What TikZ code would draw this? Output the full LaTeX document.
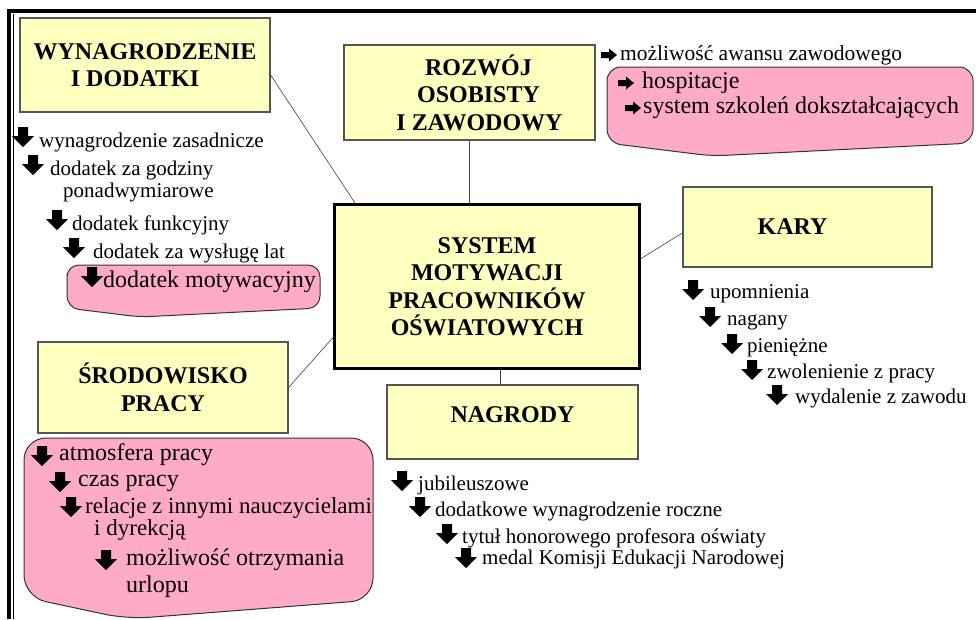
\documentclass[tikz,border=0pt]{standalone}
\usepackage{fontspec}
\setmainfont{Liberation Serif}
\usepackage{tikz}

\definecolor{boxyellow}{RGB}{255,255,192}
\definecolor{callpink}{RGB}{255,170,200}
\definecolor{boxline}{RGB}{85,85,85}

\newcommand{\listfont}{\fontsize{21}{25}\selectfont}
\newcommand{\bigfont}{\fontsize{24}{27}\selectfont}
\newcommand{\headfont}{\fontsize{24}{27.5}\selectfont\bfseries}

\tikzset{
  titlebox/.style={draw=boxline, line width=1.2pt, fill=boxyellow, align=center, font=\headfont, inner sep=0pt},
  item/.style={anchor=base west, inner sep=0pt, font=\listfont},
  bigitem/.style={item, font=\bigfont},
  link/.style={draw=black!75, line width=0.6pt},
  callout/.style={draw=black!80, line width=1pt, fill=callpink},
  dnarr/.pic={\fill (-5,-10) -- (5,-10) -- (5,-1) -- (11,-1) -- (0,10) -- (-11,-1) -- (-5,-1) -- cycle;},
  rtarr/.pic={\fill (-8,-3) -- (0,-3) -- (0,-6.5) -- (8,0) -- (0,6.5) -- (0,3) -- (-8,3) -- cycle;}
}

\begin{document}
\begin{tikzpicture}[x=1pt,y=-1pt]
\useasboundingbox (0,0) rectangle (976,619);

% frame
\draw[line width=4pt] (9,619) -- (9,11) -- (976,11);
\draw[line width=1pt] (13.5,619) -- (13.5,14);

% pink callouts
\draw[callout, rounded corners=14pt] (607,105) -- (607,67) -- (973,67) -- (973,143) -- (712,156) -- (607,143) -- cycle;
\draw[callout, rounded corners=12pt] (67,285) -- (67,265) -- (320,265) -- (320,308) -- (140,317) -- (67,308) -- cycle;
\draw[callout, rounded corners=22pt] (24,500) -- (24,438) -- (373,438) -- (373,600) -- (127,619) -- (24,597) -- cycle;

% boxes
\node[titlebox, minimum width=250pt, minimum height=94pt] (wyn) at (145,65) {WYNAGRODZENIE\\I DODATKI\hspace*{20pt}};
\node[titlebox, minimum width=251pt, minimum height=95pt] (rozw) at (469.5,92.5) {\hspace*{18pt}ROZWÓJ\\\hspace*{18pt}OSOBISTY\\\hspace*{20pt}I ZAWODOWY};
\node[titlebox, draw=black, line width=3pt, minimum width=305pt, minimum height=164pt] (sys) at (487,286.5) {SYSTEM\\MOTYWACJI\\PRACOWNIKÓW\\OŚWIATOWYCH};
\node[titlebox, minimum width=249pt, minimum height=80pt] (kary) at (807.5,227) {KARY\hspace*{30pt}};
\node[titlebox, minimum width=250pt, minimum height=91pt] (srod) at (163,387.5) {ŚRODOWISKO\\PRACY};
\node[titlebox, minimum width=251pt, minimum height=74pt, text depth=14pt] (nagr) at (512.5,422) {NAGRODY};

% connectors
\draw[link] ([yshift=-10pt]wyn.east) -- ([xshift=22pt]sys.north west);
\draw[link] (rozw.south) -- (rozw.south |- sys.north);
\draw[link] ([yshift=-6pt]kary.west) -- ([yshift=28pt]sys.east);
\draw[link] (srod.east) -- ([yshift=-51pt]sys.west);
\draw[link] ([xshift=-12pt]nagr.north) -- ([xshift=-12pt]nagr.north |- sys.south);

% wynagrodzenie
\node[item] (w1) at (39,147) {wynagrodzenie zasadnicze};
\node[item] (w2) at (50,175) {dodatek za godziny};
\node[item] (w2b) at (63,197) {ponadwymiarowe};
\node[item] (w3) at (72,230) {dodatek funkcyjny};
\node[item] (w4) at (93,258) {dodatek za wysługę lat};
\node[bigitem] (w5) at (103,287) {dodatek motywacyjny};
\pic at (23,137) {dnarr};
\pic at (33,165) {dnarr};
\pic at (57,220) {dnarr};
\pic at (74,248) {dnarr};
\pic at (92,277) {dnarr};

% rozwoj
\node[item, font=\fontsize{21.5}{25}\selectfont] (r1) at (620,60) {możliwość awansu zawodowego};
\node[bigitem] (r2) at (642,88) {hospitacje};
\node[bigitem] (r3) at (643,113) {system szkoleń dokształcających};
\pic at (609,55) {rtarr};
\pic at (626,83) {rtarr};
\pic at (633,108) {rtarr};

% kary
\node[item] (k1) at (710,298) {upomnienia};
\node[item] (k2) at (727,325) {nagany};
\node[item] (k3) at (747,352) {pieniężne};
\node[item] (k4) at (767,378) {zwolenienie z pracy};
\node[item] (k5) at (795,403) {wydalenie z zawodu};
\pic at (693,290) {dnarr};
\pic at (710,317) {dnarr};
\pic at (732,344) {dnarr};
\pic at (752,370) {dnarr};
\pic at (777,395) {dnarr};

% nagrody
\node[item] (n1) at (418,490) {jubileuszowe};
\node[item] (n2) at (435,516) {dodatkowe wynagrodzenie roczne};
\node[item] (n3) at (462,543) {tytuł honorowego profesora oświaty};
\node[item] (n4) at (482,564) {medal Komisji Edukacji Narodowej};
\pic at (402,481) {dnarr};
\pic at (420,507) {dnarr};
\pic at (447,534) {dnarr};
\pic at (466,558) {dnarr};

% srodowisko
\node[bigitem] (s1) at (59,460) {atmosfera pracy};
\node[bigitem] (s2) at (78,486) {czas pracy};
\node[item, font=\fontsize{23}{27}\selectfont] (s3) at (85,513) {relacje z innymi nauczycielami};
\node[item, font=\fontsize{23}{27}\selectfont] (s4) at (94,535) {i dyrekcją};
\node[bigitem] (s5) at (126,565) {możliwość otrzymania};
\node[bigitem] (s6) at (126,592) {urlopu};
\pic at (42,456) {dnarr};
\pic at (60,482) {dnarr};
\pic at (71,507) {dnarr};
\pic at (106,560) {dnarr};
\end{tikzpicture}
\end{document}
